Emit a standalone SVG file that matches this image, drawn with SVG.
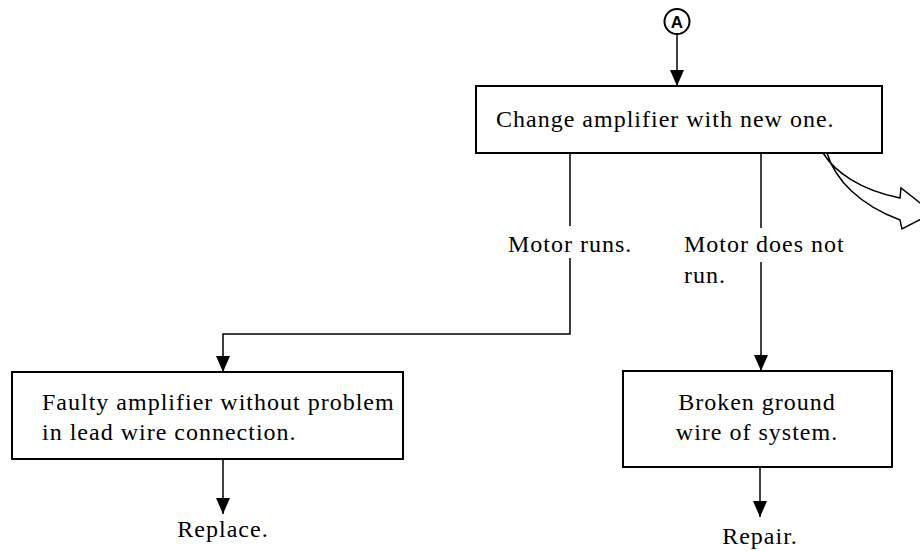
<svg xmlns="http://www.w3.org/2000/svg" width="920" height="551" viewBox="0 0 920 551">
<style>
.box{fill:#fff;stroke:#000;stroke-width:2}
.ln{fill:none;stroke:#000;stroke-width:1.5}
.t{font-family:"Liberation Serif","Times New Roman",serif;font-size:24px;letter-spacing:1px;fill:#000}
.m{text-anchor:middle}
</style>
<defs>
<marker id="ah" viewBox="0 0 16 14" markerWidth="16" markerHeight="14" refX="16" refY="7" orient="auto" markerUnits="userSpaceOnUse">
<path d="M0,0 L16,7 L0,14 Z" fill="#000"/>
</marker>
</defs>
<rect width="920" height="551" fill="#fff"/>
<g id="connectors">
<line class="ln" x1="677" y1="34" x2="677" y2="86" marker-end="url(#ah)"/>
<line class="ln" x1="570" y1="153" x2="570" y2="226"/>
<polyline class="ln" points="570,258 570,334 223,334 223,372" marker-end="url(#ah)"/>
<line class="ln" x1="761" y1="153" x2="761" y2="228"/>
<line class="ln" x1="761" y1="262" x2="761" y2="371" marker-end="url(#ah)"/>
<line class="ln" x1="223" y1="459" x2="223" y2="514" marker-end="url(#ah)"/>
<line class="ln" x1="760" y1="467" x2="760" y2="517" marker-end="url(#ah)"/>
<path d="M823,153 C835,172 860,190 900,198 L901,188 L933,213 L902,229 L900,220 C860,205 835,180 827,153" fill="#fff" stroke="#000" stroke-width="1.5" stroke-linejoin="miter"/>
<text class="t" x="508" y="252">Motor runs.</text>
<text class="t" x="684" y="252">Motor does not</text>
<text class="t" x="684" y="283">run.</text>
</g>
<g id="connectorA">
<circle cx="677" cy="21.5" r="12.5" fill="#fff" stroke="#000" stroke-width="2"/>
<text x="677" y="28" text-anchor="middle" font-family="Liberation Sans, Arial, sans-serif" font-weight="bold" font-size="17">A</text>
</g>
<g id="change">
<rect class="box" x="476" y="86" width="406" height="67" stroke-width="1.6"/>
<text class="t" x="496" y="127">Change amplifier with new one.</text>
</g>
<g id="faulty">
<rect class="box" x="12" y="372" width="391" height="87"/>
<text class="t" x="42" y="410">Faulty amplifier without problem</text>
<text class="t" x="42" y="440">in lead wire connection.</text>
</g>
<g id="broken">
<rect class="box" x="623" y="371" width="269" height="96"/>
<text class="t m" x="757" y="410">Broken ground</text>
<text class="t m" x="757" y="440">wire of system.</text>
</g>
<g id="replace">
<text class="t m" x="223" y="537">Replace.</text>
</g>
<g id="repair">
<text class="t m" x="760" y="544">Repair.</text>
</g>
</svg>
